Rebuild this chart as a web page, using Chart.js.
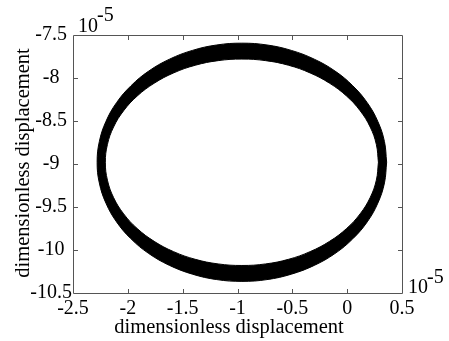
<!DOCTYPE html>
<html>
<head>
<meta charset="utf-8">
<script src="https://cdn.jsdelivr.net/npm/chart.js@4.4.1/dist/chart.umd.min.js"></script>
<style>
  html, body { margin: 0; padding: 0; background: #fff; }
  #plot { display: block; }
</style>
</head>
<body>
<canvas id="plot" width="449" height="341"></canvas>
<script>
// orbit band, units of 1e-5; outer and inner edge of the trajectory bundle
var outerX = [0.36, 0.34, 0.28, 0.183, 0.051, -0.111, -0.30, -0.509, -0.731, -0.96, -1.189, -1.411,
  -1.62, -1.809, -1.971, -2.103, -2.20, -2.26, -2.28, -2.26, -2.20, -2.103, -1.971, -1.809,
  -1.62, -1.411, -1.189, -0.96, -0.731, -0.509, -0.30, -0.111, 0.051, 0.183, 0.28, 0.34];
var outerY = [-8.98, -8.74, -8.506, -8.287, -8.09, -7.919, -7.781, -7.679, -7.616, -7.595, -7.616, -7.679,
  -7.781, -7.919, -8.09, -8.287, -8.506, -8.74, -8.98, -9.22, -9.454, -9.673, -9.87, -10.041,
  -10.179, -10.281, -10.344, -10.365, -10.344, -10.281, -10.179, -10.041, -9.87, -9.673, -9.454, -9.22];
var innerX = [0.285, 0.266, 0.21, 0.118, -0.006, -0.16, -0.338, -0.534, -0.744, -0.96, -1.176, -1.386,
  -1.583, -1.76, -1.914, -2.038, -2.13, -2.186, -2.205, -2.186, -2.13, -2.038, -1.914, -1.76,
  -1.583, -1.386, -1.176, -0.96, -0.744, -0.534, -0.338, -0.16, -0.006, 0.118, 0.21, 0.266];
var innerY = [-8.98, -8.772, -8.57, -8.38, -8.209, -8.061, -7.941, -7.852, -7.798, -7.78, -7.798, -7.852,
  -7.941, -8.061, -8.209, -8.38, -8.57, -8.772, -8.98, -9.188, -9.39, -9.58, -9.751, -9.899,
  -10.019, -10.108, -10.162, -10.18, -10.162, -10.108, -10.019, -9.899, -9.751, -9.58, -9.39, -9.188];

var xTicks = [-2.5, -2, -1.5, -1, -0.5, 0, 0.5];
var yTicks = [-10.5, -10, -9.5, -9, -8.5, -8, -7.5];
var xTitle = 'dimensionless displacement';
var yTitle = 'dimensionless displacement';
var expBase = '10';
var expPow = '-5';

var serif = 'Liberation Serif, Times New Roman, serif';
var axisColor = '#555';

// outer loop forward, inner loop backward -> ring with a hole.
// seam points are doubled so the spline stays flat across the joint
var band = [];
function pt(xs, ys, n) { var k = n % xs.length; band.push({x: xs[k], y: ys[k]}); }
for (var i = 0; i <= outerX.length; i++) pt(outerX, outerY, i);
pt(outerX, outerY, 0);
pt(innerX, innerY, 0);
for (var j = innerX.length; j >= 0; j--) pt(innerX, innerY, j);

function fmt(v) {
  return String(Math.round(v * 10) / 10);
}

var frame = {
  id: 'frame',
  afterDraw: function(chart) {
    var ctx = chart.ctx, a = chart.chartArea;
    var sx = chart.scales.x, sy = chart.scales.y;
    var tl = 4;
    ctx.save();
    ctx.strokeStyle = axisColor;
    ctx.lineWidth = 1;
    ctx.beginPath();
    ctx.rect(a.left + 0.5, a.top + 0.5, a.right - a.left, a.bottom - a.top);
    xTicks.forEach(function(v) {
      var px = Math.round(sx.getPixelForValue(v)) + 0.5;
      ctx.moveTo(px, a.bottom); ctx.lineTo(px, a.bottom - tl);
      ctx.moveTo(px, a.top + 1); ctx.lineTo(px, a.top + 1 + tl);
    });
    yTicks.forEach(function(v) {
      var py = Math.round(sy.getPixelForValue(v)) + 0.5;
      ctx.moveTo(a.left + 1, py); ctx.lineTo(a.left + 1 + tl, py);
      ctx.moveTo(a.right, py); ctx.lineTo(a.right - tl, py);
    });
    ctx.stroke();

    ctx.fillStyle = '#000';
    ctx.font = '20.5px ' + serif;
    ctx.textBaseline = 'alphabetic';
    ctx.textAlign = 'center';
    ctx.fillText(xTitle, 229, 333);
    ctx.save();
    ctx.translate(29, 163);
    ctx.rotate(-Math.PI / 2);
    ctx.fillText(yTitle, 0, 0);
    ctx.restore();

    // exponent markers
    ctx.font = '20px ' + serif;
    ctx.textAlign = 'left';
    ctx.fillText(expBase, 78, 32);
    ctx.fillText(expPow, 97, 21);
    ctx.fillText(expBase, 408, 293);
    ctx.fillText(expPow, 427, 283);
    ctx.restore();
  }
};

new Chart(document.getElementById('plot'), {
  type: 'scatter',
  data: {
    datasets: [{
      data: band,
      showLine: true,
      fill: 'shape',
      backgroundColor: '#000',
      borderColor: '#000',
      borderWidth: 1,
      pointRadius: 0,
      tension: 0.4
    }]
  },
  options: {
    responsive: false,
    animation: false,
    devicePixelRatio: 1,
    layout: { padding: { left: 0, right: 47, top: 35, bottom: 0 } },
    plugins: { legend: { display: false }, tooltip: { enabled: false } },
    scales: {
      x: {
        type: 'linear',
        min: -2.5, max: 0.5,
        afterFit: function(s) { s.height = 48; },
        afterBuildTicks: function(s) { s.ticks = xTicks.map(function(v) { return {value: v}; }); },
        grid: { display: false, drawTicks: false },
        border: { display: false },
        ticks: { color: '#000', padding: 4, maxRotation: 0, font: { family: serif, size: 20 }, callback: fmt }
      },
      y: {
        type: 'linear',
        min: -10.5, max: -7.5,
        afterFit: function(s) { s.width = 73; },
        afterBuildTicks: function(s) { s.ticks = yTicks.map(function(v) { return {value: v}; }); },
        grid: { display: false, drawTicks: false },
        border: { display: false },
        ticks: { color: '#000', padding: 1, crossAlign: 'center', font: { family: serif, size: 20 }, callback: fmt }
      }
    }
  },
  plugins: [frame]
});
</script>
</body>
</html>
